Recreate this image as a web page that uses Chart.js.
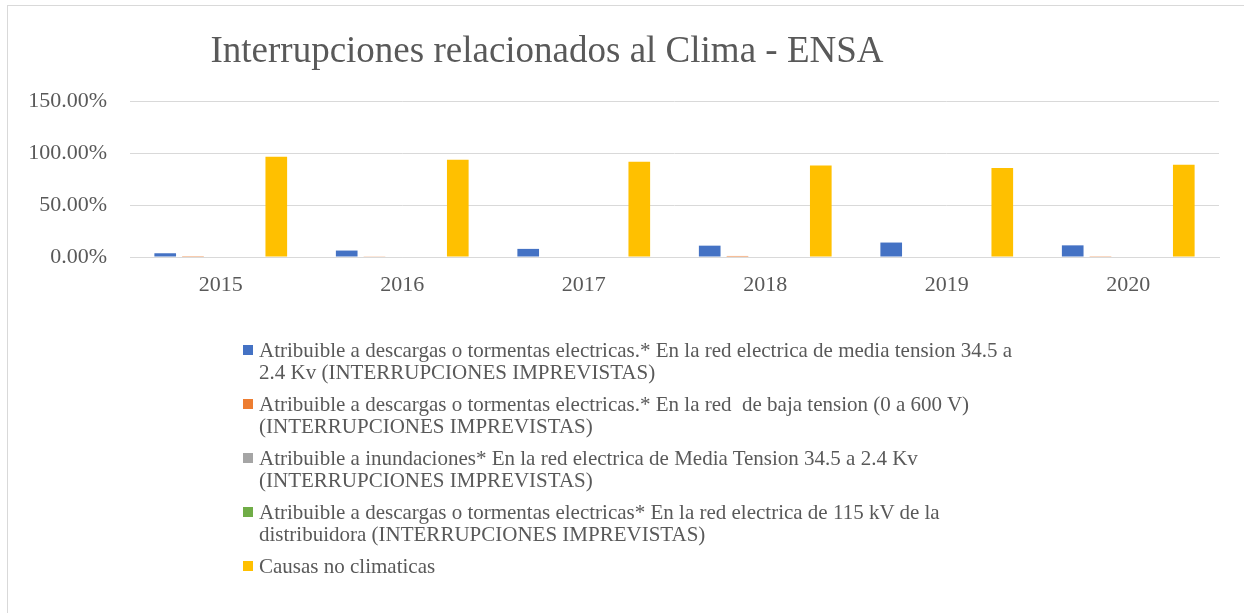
<!DOCTYPE html>
<html lang="es">
<head>
    <meta charset="UTF-8">
    <title>Interrupciones relacionados al Clima - ENSA</title>
    <script src="https://cdn.jsdelivr.net/npm/chart.js@4.4.1/dist/chart.umd.min.js"></script>
    <style>
        body { margin: 0; background: #fff; }
        #wrap { position: relative; width: 1244px; height: 613px; overflow: hidden; }
        #frame { position: absolute; left: 7px; top: 5px; right: -2px; bottom: -2px;
                 border-top: 1px solid #d9d9d9; border-left: 1px solid #d9d9d9; }
        #chartBox { position: absolute; left: 0; top: 0; width: 1244px; height: 613px; }
        #legend { position: absolute; left: 243px; top: 339px;
                  font-family: 'Liberation Serif', 'Times New Roman', serif;
                  font-size: 21px; line-height: 22px; color: #595959; }
        .item { display: flex; align-items: flex-start; margin-bottom: 10px; }
        .box { width: 10px; height: 10px; margin-top: 6px; margin-right: 6px; flex: none; }
        .txt { max-width: 770px; white-space: pre-wrap; }
    </style>
</head>
<body>
<div id="wrap">
    <div id="frame"></div>
    <div id="chartBox"><canvas id="myChart"></canvas></div>
    <div id="legend"></div>
</div>
<script>
    var titleText = 'Interrupciones relacionados al Clima - ENSA';
    var years = ['2015', '2016', '2017', '2018', '2019', '2020'];

    var seriesNames = [
        'Atribuible a descargas o tormentas electricas.* En la red electrica de media tension 34.5 a 2.4 Kv (INTERRUPCIONES IMPREVISTAS)',
        'Atribuible a descargas o tormentas electricas.* En la red  de baja tension (0 a 600 V) (INTERRUPCIONES IMPREVISTAS)',
        'Atribuible a inundaciones* En la red electrica de Media Tension 34.5 a 2.4 Kv (INTERRUPCIONES IMPREVISTAS)',
        'Atribuible a descargas o tormentas electricas* En la red electrica de 115 kV de la distribuidora (INTERRUPCIONES IMPREVISTAS)',
        'Causas no climaticas'
    ];
    var seriesColors = ['#4472C4', '#ED7D31', '#A5A5A5', '#70AD47', '#FFC000'];

    // values in percent
    var mediaTension = [3.6, 6.2, 7.8, 10.9, 13.9, 11.2];
    var bajaTension  = [0.1, 0.3, 0.5, 1.0, 0.5, 0.2];
    var inundaciones = [0, 0, 0, 0, 0, 0];
    var red115kv     = [0, 0, 0, 0, 0, 0];
    var noClimaticas = [96.3, 93.5, 91.6, 88.1, 85.6, 88.6];

    var yTicks = [0, 50, 100, 150];

    var font = "'Liberation Serif', 'Times New Roman', serif";
    var grey = '#595959';

    var seriesData = [mediaTension, bajaTension, inundaciones, red115kv, noClimaticas];

    var titlePlugin = {
        id: 'offsetTitle',
        afterDraw: function(chart) {
            var c = chart.ctx;
            c.save();
            c.font = '37px ' + font;
            c.fillStyle = grey;
            c.textAlign = 'center';
            c.textBaseline = 'alphabetic';
            c.fillText(titleText, 547, 62);
            c.restore();
        }
    };

    var ctx = document.getElementById('myChart').getContext('2d');
    var chart = new Chart(ctx, {
        type: 'bar',
        data: {
            labels: years,
            datasets: seriesData.map(function(d, i) {
                return {
                    label: seriesNames[i],
                    data: d,
                    backgroundColor: seriesColors[i],
                    borderWidth: 0,
                    categoryPercentage: 0.765,
                    barPercentage: 0.78
                };
            })
        },
        options: {
            responsive: true,
            maintainAspectRatio: false,
            animation: false,
            layout: { padding: { left: 0, top: 101, right: 25, bottom: 316 } },
            plugins: {
                legend: { display: false },
                title: { display: false },
                tooltip: { enabled: false }
            },
            scales: {
                x: {
                    grid: { display: false, drawTicks: false },
                    border: { color: '#d9d9d9', width: 1 },
                    ticks: { color: grey, font: { family: font, size: 22 }, padding: 15 },
                    afterFit: function(s) { s.height = 40; }
                },
                y: {
                    min: 0,
                    max: 150,
                    afterBuildTicks: function(s) { s.ticks = yTicks.map(function(v) { return { value: v }; }); },
                    grid: { color: '#d9d9d9', drawTicks: false },
                    border: { display: false },
                    ticks: {
                        color: grey,
                        font: { family: font, size: 22 },
                        padding: 23,
                        callback: function(v) { return v.toFixed(2) + '%'; }
                    },
                    afterFit: function(s) { s.width = 130; }
                }
            }
        },
        plugins: [titlePlugin]
    });

    // legend built from the chart's datasets
    var legend = document.getElementById('legend');
    chart.data.datasets.forEach(function(ds) {
        var item = document.createElement('div');
        item.className = 'item';
        var box = document.createElement('div');
        box.className = 'box';
        box.style.background = ds.backgroundColor;
        var txt = document.createElement('div');
        txt.className = 'txt';
        txt.textContent = ds.label;
        item.appendChild(box);
        item.appendChild(txt);
        legend.appendChild(item);
    });
</script>
</body>
</html>
